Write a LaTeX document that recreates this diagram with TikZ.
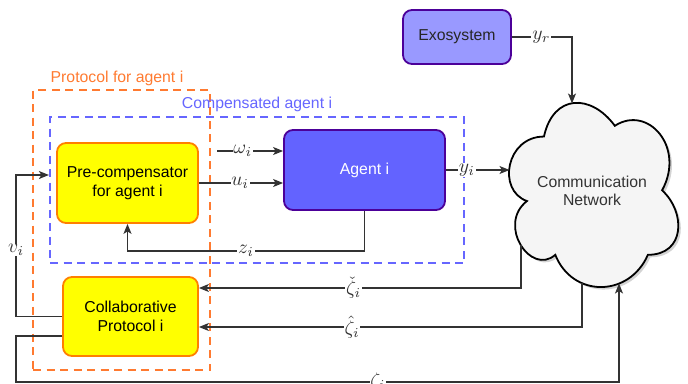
\documentclass[tikz,border=0pt]{standalone}
\usepackage{graphicx}
\usepackage{amsmath}
\usepackage{fontspec}
\setmainfont{Liberation Sans}
\usetikzlibrary{arrows.meta,shadows}
\definecolor{orgD}{HTML}{FF7A30}
\definecolor{bluD}{HTML}{6666FF}
\definecolor{ylw}{HTML}{FFFF00}
\definecolor{orgS}{HTML}{FF8000}
\definecolor{agF}{HTML}{6363FF}
\definecolor{purS}{HTML}{4C0099}
\definecolor{exF}{HTML}{9999FF}
\definecolor{clF}{HTML}{F5F5F5}
\definecolor{conC}{HTML}{333333}
\newcommand{\mlab}[1]{\scalebox{1.95}{$#1$}}
\begin{document}
\begin{tikzpicture}[x=1pt,y=-1pt,
  txt/.style={font=\fontsize{15.8}{18.5}\selectfont, align=center},
  blk/.style={txt, rectangle, rounded corners=9pt, line width=1.8pt, inner sep=0pt},
  yel/.style={blk, fill=ylw, draw=orgS},
  dashbox/.style={rectangle, line width=2.2pt, dash pattern=on 8pt off 5.5pt, inner sep=0pt},
  conn/.style={draw=conC, line width=1.3pt, -{Stealth[length=10pt,width=8pt,inset=2.5pt]}},
  lab/.style={fill=white, inner sep=0.8pt, font=\normalsize, text=conC}
]
\useasboundingbox (0,0) rectangle (688,383);

% dashed groups
\node[dashbox, draw=orgD, minimum width=177pt, minimum height=280pt] (prot) at (121.5,230) {};
\node[dashbox, draw=bluD, minimum width=414pt, minimum height=146pt] (comp) at (257,190) {};
\node[txt, text=orgD] (protlab) at (117,78) {Protocol for agent i};
\node[txt, text=bluD] (complab) at (257,104) {Compensated agent i};

% blocks
\node[blk, fill=exF, draw=purS, text=black!85, minimum width=108pt, minimum height=54pt] (exo) at (457,37) {Exosystem};
\node[blk, fill=agF, draw=purS, text=white, minimum width=161pt, minimum height=80pt] (agent) at (364.5,170) {Agent i};
\node[yel, minimum width=141pt, minimum height=80pt] (precomp) at (127.5,183) {Pre-compensator\\for agent i};
\node[yel, minimum width=135pt, minimum height=79pt] (collab) at (130.5,316.5) {Collaborative\\Protocol i};

% cloud
\draw[fill=clF, line width=1.8pt, drop shadow={shadow xshift=2.5pt, shadow yshift=-2.5pt, opacity=0.35}]
  (543.95,136.55) .. controls (506.15,136.55) and (496.7,190.3) .. (526.94,201.05)
  .. controls (496.7,224.7) and (530.72,276.3) .. (555.29,254.8)
  .. controls (572.3,297.8) and (629.0,297.8) .. (647.9,254.8)
  .. controls (685.7,254.8) and (685.7,211.8) .. (662.08,190.3)
  .. controls (685.7,147.3) and (647.9,104.3) .. (614.83,125.8)
  .. controls (591.2,93.55) and (553.4,93.55) .. (543.95,136.55) -- cycle;
\node[txt, text=conC] (net) at (592,191) {Communication\\Network};
\coordinate (netT) at (572,103.5);
\coordinate (netL) at (509.5,171);
\coordinate (netA) at (521,245);
\coordinate (netB) at (582,283);
\coordinate (netC) at (619,283.5);
\coordinate (wstart) at (217,151);

% connectors
\draw[conn] (exo.east) -| node[lab, pos=0.245] {\mlab{y_r}} (netT);
\draw[conn] (wstart) -- node[lab, pos=0.39] {\mlab{\omega_i}} ([yshift=19pt]agent.west);
\draw[conn] (precomp.east) -- node[lab, pos=0.49] {\mlab{u_i}} (precomp.east -| agent.west);
\draw[conn] (agent.east) -- node[lab, pos=0.33] {\mlab{y_i}} (agent.east -| netL);
\draw[conn] (agent.south) -- ++(0,40) -| node[lab, pos=0.25] {\mlab{z_i}} (precomp.south);
\draw[conn] (collab.west) -- ++(-46,0) |- node[lab, pos=0.235] {\mlab{v_i}} ([yshift=15pt]comp.west);
\draw[conn] (netA) |- node[lab, pos=0.76] {\mlab{\check{\zeta}_i}} ([yshift=28.5pt]collab.east);
\draw[conn] (netB) |- node[lab, pos=0.80] {\mlab{\hat{\zeta}_i}} ([yshift=-10.5pt]collab.east);
\draw[conn] ([yshift=-19.5pt]collab.west) -- ++(-46,0) -- ++(0,46) -| node[lab, pos=0.3] {\mlab{\zeta_i}} (netC);
\end{tikzpicture}
\end{document}
